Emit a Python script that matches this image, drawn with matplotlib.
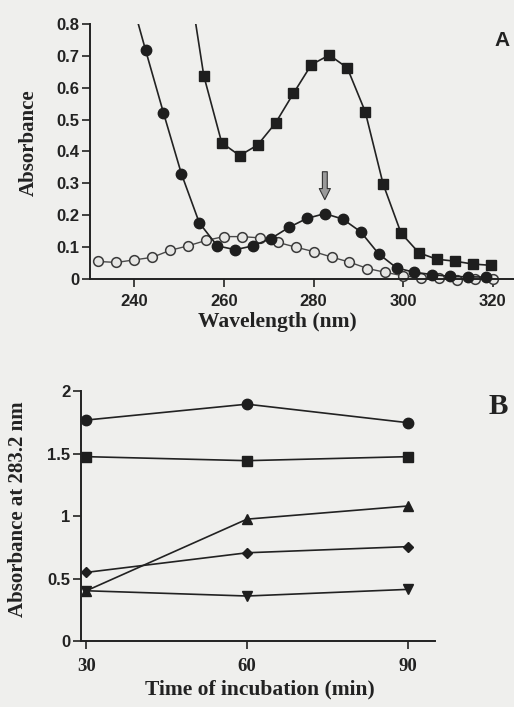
import matplotlib
matplotlib.use('Agg')
import matplotlib.pyplot as plt

plt.rcParams['font.family'] = ['Liberation Sans', 'DejaVu Sans']

# panel A: absorption spectra
wl_open = [232, 236, 240, 244, 248, 252, 256, 260, 264, 268, 272, 276,
           280, 284, 288, 292, 296, 300, 304, 308, 312, 316, 320]
abs_open = [0.055, 0.052, 0.060, 0.068, 0.090, 0.104, 0.121, 0.133, 0.133, 0.129, 0.115, 0.100,
            0.086, 0.069, 0.053, 0.033, 0.021, 0.010, 0.003, 0.002, -0.002, 0.000, -0.001]

# first value lies above the plotted range (line leaves through the top)
wl_filled = [238.5, 242.5, 246.5, 250.5, 254.5, 258.5, 262.5, 266.5, 270.5, 274.5, 278.5,
             282.5, 286.5, 290.5, 294.5, 298.5, 302.5, 306.5, 310.5, 314.5, 318.5]
abs_filled = [0.92, 0.718, 0.521, 0.330, 0.176, 0.104, 0.092, 0.104, 0.127, 0.162, 0.190,
              0.205, 0.188, 0.148, 0.079, 0.035, 0.021, 0.014, 0.008, 0.007, 0.006]

wl_square = [251.5, 255.5, 259.5, 263.5, 267.5, 271.5, 275.5, 279.5, 283.5, 287.5,
             291.5, 295.5, 299.5, 303.5, 307.5, 311.5, 315.5, 319.5]
abs_square = [1.0, 0.637, 0.427, 0.387, 0.420, 0.489, 0.582, 0.672, 0.702, 0.662,
              0.525, 0.298, 0.144, 0.082, 0.062, 0.056, 0.047, 0.043]

arrow_wl = 282.5
arrow_from, arrow_to = 0.345, 0.24

# panel B: absorbance at 283.2 nm vs time
time_min = [30, 60, 90]
b_circle = [1.770, 1.897, 1.749]
b_square = [1.477, 1.445, 1.477]
b_tri_up = [0.404, 0.977, 1.082]
b_diamond = [0.551, 0.708, 0.757]
b_tri_down = [0.404, 0.362, 0.415]

W, H = 514, 707
bg = '#efefed'
ink = '#222222'
fig = plt.figure(figsize=(W / 100, H / 100), dpi=100, facecolor=bg)


def px_axes(left, top, right, bottom):
    return fig.add_axes([left / W, 1 - bottom / H, (right - left) / W, (bottom - top) / H])


def style_axes(ax):
    ax.set_facecolor('none')
    for s in ['top', 'right']:
        ax.spines[s].set_visible(False)
    for s in ['left', 'bottom']:
        ax.spines[s].set_linewidth(1.4)
        ax.spines[s].set_color(ink)
    ax.spines['bottom'].set_position(('data', 0))
    ax.tick_params(direction='out', length=6, width=1.2, color=ink, labelcolor=ink, labelsize=12)


def bold_ticks(labels, family=None, size=None):
    for lab in labels:
        lab.set_fontweight('bold')
        if family:
            lab.set_family(family)
        if size:
            lab.set_fontsize(size)


# ---- panel A
axA = px_axes(89.5, 23.8, 514, 288.6)
style_axes(axA)
axA.set_xlim(230, 324.7)
axA.set_ylim(-0.03, 0.8)
axA.spines['left'].set_bounds(0, 0.8)
axA.set_xticks([240, 260, 280, 300, 320])
axA.set_yticks([0, 0.1, 0.2, 0.3, 0.4, 0.5, 0.6, 0.7, 0.8])
axA.set_yticklabels(['0', '0.1', '0.2', '0.3', '0.4', '0.5', '0.6', '0.7', '0.8'])
axA.tick_params(axis='x', pad=5)
axA.tick_params(axis='y', pad=1.5)
bold_ticks(axA.get_xticklabels())
bold_ticks(axA.get_yticklabels())

axA.plot(wl_open, abs_open, color='#4a4a4a', lw=1.0, marker='o', ms=7,
         mfc='#e6e6e4', mec='#3a3a3a', mew=1.1, zorder=2)
axA.plot(wl_filled, abs_filled, color=ink, lw=1.2, marker='o', ms=7.5,
         mfc='#1e1e1e', mec='#1e1e1e', zorder=3)
axA.plot(wl_square, abs_square, color=ink, lw=1.2, marker='s', ms=7.5,
         mfc='#1e1e1e', mec='#1e1e1e', zorder=3)
axA.annotate('', xy=(arrow_wl, arrow_to), xytext=(arrow_wl, arrow_from),
             arrowprops=dict(arrowstyle='simple,head_length=0.8,head_width=0.8,tail_width=0.35',
                             fc='#9a9a9a', ec='#333333', lw=0.8))

fig.text(29 / W, 1 - 143 / H, 'Absorbance', rotation=90, ha='center', va='center',
         fontsize=15, fontweight='bold', family='Liberation Serif', color=ink)
fig.text(277 / W, 1 - 322 / H, 'Wavelength (nm)', ha='center', va='center',
         fontsize=15.5, fontweight='bold', family='Liberation Serif', color=ink)
fig.text(502 / W, 1 - 40 / H, 'A', ha='center', va='center',
         fontsize=15, fontweight='bold', color=ink)

# ---- panel B
axB = px_axes(81, 391.3, 435.5, 647.5)
style_axes(axB)
axB.set_xlim(29, 95.2)
axB.set_ylim(-0.05, 2.0)
axB.spines['left'].set_bounds(0, 2)
axB.set_xticks([30, 60, 90])
axB.set_yticks([0, 0.5, 1, 1.5, 2])
axB.set_yticklabels(['0', '0.5', '1', '1.5', '2'])
axB.tick_params(axis='x', pad=6)
axB.tick_params(axis='y', pad=1.5)
bold_ticks(axB.get_xticklabels(), family='Liberation Serif', size=13.5)
bold_ticks(axB.get_yticklabels())

mk = dict(color=ink, lw=1.2, mfc='#1e1e1e', mec='#1e1e1e', clip_on=False)
axB.plot(time_min, b_circle, marker='o', ms=7.5, **mk)
axB.plot(time_min, b_square, marker='s', ms=7.5, **mk)
axB.plot(time_min, b_tri_up, marker='^', ms=7, **mk)
axB.plot(time_min, b_diamond, marker='D', ms=5, **mk)
axB.plot(time_min, b_tri_down, marker='v', ms=7, **mk)

fig.text(18 / W, 1 - 509 / H, 'Absorbance at 283.2 nm', rotation=90, ha='center', va='center',
         fontsize=15, fontweight='bold', family='Liberation Serif', color=ink)
fig.text(260 / W, 1 - 689 / H, 'Time of incubation (min)', ha='center', va='center',
         fontsize=15.5, fontweight='bold', family='Liberation Serif', color=ink)
fig.text(498 / W, 1 - 407 / H, 'B', ha='center', va='center',
         fontsize=21, fontweight='bold', family='Liberation Serif', color=ink)

fig.savefig('out.png', dpi=100, facecolor=bg)
